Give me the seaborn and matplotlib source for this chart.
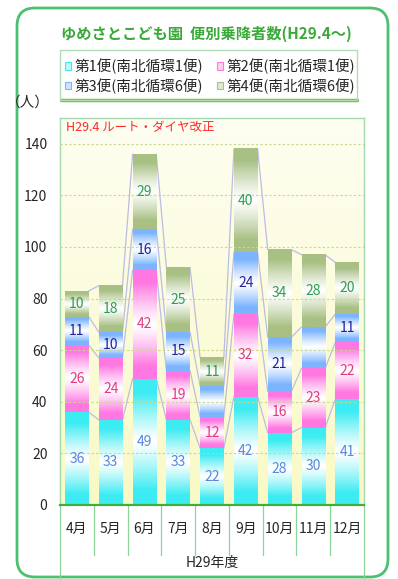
import numpy as np
import pandas as pd
import matplotlib
matplotlib.use("Agg")
import matplotlib.pyplot as plt
import seaborn as sns
from matplotlib.patches import FancyBboxPatch, Rectangle, Patch
from matplotlib.lines import Line2D
from matplotlib.transforms import IdentityTransform, blended_transform_factory
from matplotlib.colors import to_rgb

# --- データ ---
months = ['4月', '5月', '6月', '7月', '8月', '9月', '10月', '11月', '12月']
bin1 = [36, 33, 49, 33, 22, 42, 28, 30, 41]   # 第1便(南北循環1便)
bin2 = [26, 24, 42, 19, 12, 32, 16, 23, 22]   # 第2便(南北循環1便)
bin3 = [11, 10, 16, 15, 12, 24, 21, 16, 11]   # 第3便(南北循環6便)
bin4 = [10, 18, 29, 25, 11, 40, 34, 28, 20]   # 第4便(南北循環6便)
series_names = ['第1便(南北循環1便)', '第2便(南北循環1便)',
                '第3便(南北循環6便)', '第4便(南北循環6便)']
hidden_labels = [(2, '8月'), (2, '11月')]   # 値が表示されていない区間

bar_colors = ['#3cecf2', '#ff78e2', '#7cb4ff', '#a8c084']
label_colors = ['#5a86e0', '#e03c82', '#22229e', '#2e9e55']
legend_fill = ['#bff6f8', '#ffd0f2', '#cfe2ff', '#e2ead0']

sns.set_style("white")
plt.rcParams['font.family'] = ['Noto Sans CJK JP', 'DejaVu Sans']

W, H = 398, 579
fig = plt.figure(figsize=(W / 100, H / 100), dpi=100)

# 外枠(角丸)
frame = FancyBboxPatch((17, 2), 371, 569, boxstyle="round,pad=0,rounding_size=18",
                       transform=IdentityTransform(), facecolor='none',
                       edgecolor='#4cc070', lw=2, zorder=-1)
fig.patches.append(frame)

# タイトル
fig.text(206 / W, 1 - 34 / H, 'ゆめさとこども園  便別乗降者数(H29.4～)',
         ha='center', va='center', fontsize=11, fontweight='bold', color='#3aaa38')

# 凡例枠
fig.patches.append(Rectangle((60, 479), 297, 50, transform=IdentityTransform(),
                             facecolor='none', edgecolor='#b4dcb4', lw=1, zorder=-1))
fig.lines.append(Line2D([61, 357], [479, 479], transform=IdentityTransform(),
                        color='#6cc040', lw=2.5, zorder=-1))
handles = [Patch(facecolor=legend_fill[i], edgecolor=bar_colors[i], lw=0.8)
           for i in range(4)]
order = [0, 2, 1, 3]   # 行方向に並べる
fig.legend([handles[i] for i in order], [series_names[i] for i in order],
           ncol=2, frameon=False, loc='center',
           bbox_to_anchor=(210 / W, 1 - 76 / H), fontsize=10.5,
           handlelength=0.45, handleheight=0.45, handletextpad=0.25,
           columnspacing=0.9, labelspacing=0.3, borderpad=0)

fig.text(28 / W, 1 - 103 / H, '（人）', ha='center', va='center', fontsize=10.5)

# --- グラフ ---
ax = fig.add_axes([60 / W, 74 / H, 304 / W, 387 / H])

# 背景グラデーション
tt = np.linspace(0, 1, 100)
bg_img = np.array([np.array(to_rgb('#fefef2')) * (1 - t) + np.array(to_rgb('#f9f9c6')) * t
                   for t in tt])[:, None, :]
ax.imshow(bg_img, extent=(0, 1, 0, 1), transform=ax.transAxes, aspect='auto',
          zorder=0, origin='upper')

df = pd.DataFrame({'month': months, 's1': bin1, 's2': bin2, 's3': bin3, 's4': bin4})
cum = df[['s1', 's2', 's3', 's4']].cumsum(axis=1)

layers = []
for k, col in enumerate(['s1', 's2', 's3', 's4']):
    n_before = len(ax.patches)
    sns.barplot(data=cum.assign(month=months), x='month', y=col, order=months,
                color=bar_colors[k], width=0.7, ax=ax, zorder=1)
    layers.append(ax.patches[n_before:])

ax.set_xlim(-0.5, 8.5)
ax.set_ylim(0, 150)

# 区間ごとのグラデーション・値ラベル
hidden = set(hidden_labels)
prof = np.linspace(0, 1, 120)
for k in range(4):
    c = np.array(to_rgb(bar_colors[k]))
    w = np.clip(np.abs(2 * prof - 1) * 1.3, 0, 1) ** 1.2
    grad = (np.ones(3)[None, :] * (1 - w[:, None]) + c[None, :] * w[:, None])[:, None, :]
    for j, p in enumerate(layers[k]):
        x0, wd = p.get_x(), p.get_width()
        top = p.get_height()
        lo = layers[k - 1][j].get_height() if k > 0 else 0
        p.set_alpha(0)
        ax.imshow(grad, extent=(x0, x0 + wd, lo, top), aspect='auto',
                  origin='lower', zorder=2, interpolation='bilinear')
        if (k, months[j]) not in hidden:
            val = top - lo
            ax.text(x0 + wd / 2, (lo + top) / 2, f'{val:.0f}', ha='center', va='center',
                    fontsize=10, color=label_colors[k], zorder=4)

# 系列線
for k in range(4):
    ps = layers[k]
    for j in range(len(ps) - 1):
        a, b = ps[j], ps[j + 1]
        ax.plot([a.get_x() + a.get_width(), b.get_x()], [a.get_height(), b.get_height()],
                color='#bcbce4', lw=0.9, zorder=1.5)

ax.set_xlim(-0.5, 8.5)
ax.set_ylim(0, 150)
ax.set_yticks(range(0, 141, 20))
ax.yaxis.grid(True, color='#c6d88e', lw=0.8, linestyle=(0, (2, 2)), zorder=0.5)
ax.set_axisbelow(False)
ax.tick_params(axis='y', length=0, pad=9, labelsize=10)
ax.tick_params(axis='x', length=0, pad=12, labelsize=10)
ax.set_xlabel('')
ax.set_ylabel('')

for s in ['top', 'right', 'left']:
    ax.spines[s].set_color('#a6d8ae')
    ax.spines[s].set_linewidth(1)
ax.spines['bottom'].set_color('#3cae3c')
ax.spines['bottom'].set_linewidth(1.6)

# 月ラベルの区切り線
tr = blended_transform_factory(ax.transData, ax.transAxes)
for xb in np.arange(-0.5, 9.0, 1.0):
    ylow = -0.188 if xb in (-0.5, 8.5) else -0.13
    ax.plot([xb, xb], [0, ylow], transform=tr, clip_on=False,
            color='#8cd49c', lw=0.9, zorder=1)

ax.text(0.5, -(563 - 505) / 387, 'H29年度', transform=ax.transAxes,
        ha='center', va='center', fontsize=10)

ax.text(6 / 304, 1 - 10 / 387, 'H29.4 ルート・ダイヤ改正', transform=ax.transAxes,
        ha='left', va='center', fontsize=9, color='#ff2a2a', zorder=5)

fig.savefig('out.png', dpi=100)
